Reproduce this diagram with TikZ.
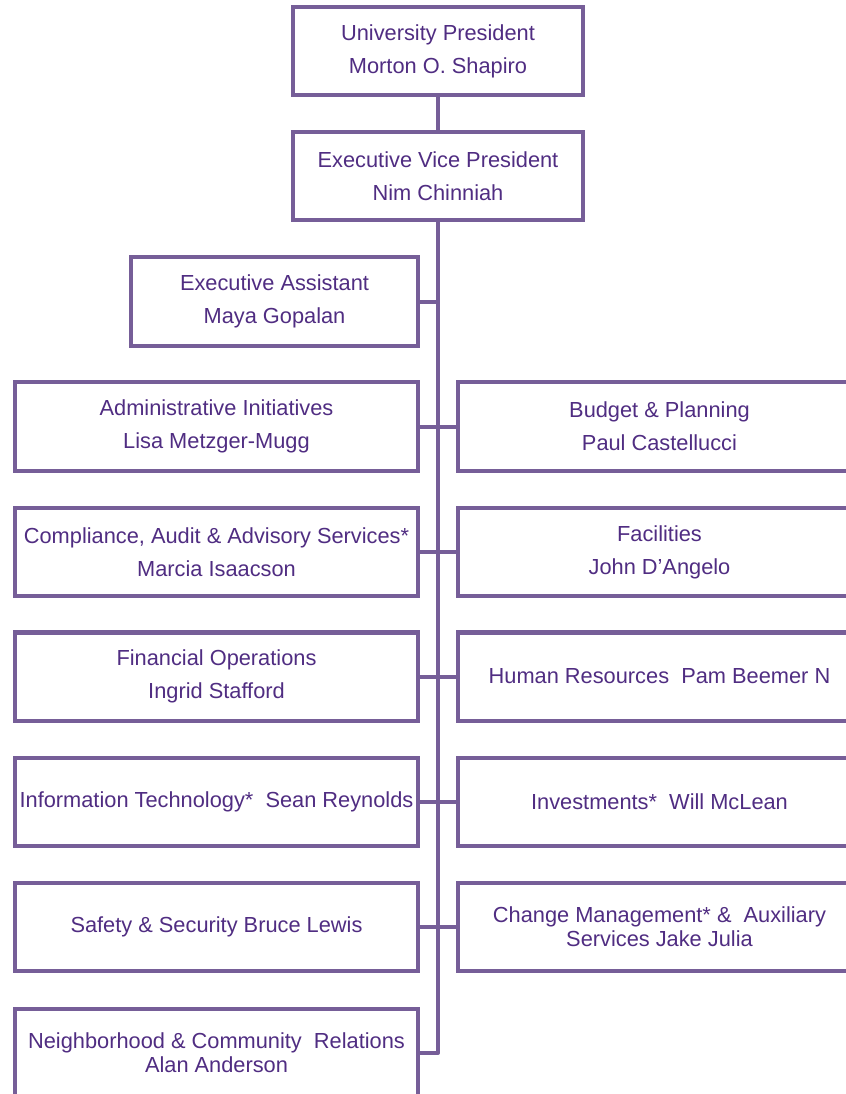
\documentclass[tikz,border=0pt]{standalone}
\usepackage{fontspec}
\setmainfont{Liberation Sans}
\usepackage{xcolor}
\usetikzlibrary{positioning,calc}

\definecolor{chartline}{RGB}{118,94,152}
\definecolor{charttext}{RGB}{80,45,130}

\tikzset{
  box/.style={draw=chartline, line width=0.1cm, fill=white, text=charttext,
    align=center, inner sep=0pt, minimum height=2.2cm,
    font=\fontsize{15.5}{23.5}\selectfont},
  topbox/.style={box, minimum width=7.26cm},
  rowbox/.style={box, minimum width=10.075cm},
  tight/.style={font=\fontsize{15.5}{17}\selectfont},
  link/.style={draw=chartline, line width=0.1cm, line join=round}
}

\begin{document}
\begin{tikzpicture}[x=0.025cm, y=-0.025cm]
    % Page
    \useasboundingbox (0,0) rectangle (846,1094);
    \clip (0,0) rectangle (846,1094);
    \fill[white] (0,0) rectangle (846,1094);

    % Top of the chart
    \node[topbox] (president) at (438,51) {University President\\Morton O. Shapiro};
    \node[topbox] (evp) at (438,176) {Executive Vice President\\Nim Chinniah};
    \node[box, minimum width=7.175cm] (assistant) at (274.5,301.5) {Executive Assistant\\Maya Gopalan};

    % Left column
    \node[rowbox] (admin) at (216.5,426.5) {Administrative Initiatives\\Lisa Metzger-Mugg};
    \node[rowbox] (audit) at (216.5,552) {Compliance, Audit \& Advisory Services*\\Marcia Isaacson};
    \node[rowbox] (finance) at (216.5,676.5) {Financial Operations\\Ingrid Stafford};
    \node[rowbox] (infotech) at (216.5,802) {Information Technology*~ Sean Reynolds};
    \node[rowbox] (safety) at (216.5,927) {Safety \& Security Bruce Lewis};
    \node[rowbox, tight] (hood) at (216.5,1053) {Neighborhood \& Community~ Relations\\Alan Anderson};

    % Right column
    \node[rowbox] (budget) at (659.5,426.5) {Budget \& Planning\\Paul Castellucci};
    \node[rowbox] (facilities) at (659.5,552) {Facilities\\John D'Angelo};
    \node[rowbox] (hr) at (659.5,676.5) {Human Resources~ Pam Beemer N};
    \node[rowbox] (invest) at (659.5,802) {Investments*~ Will McLean};
    \node[rowbox, tight] (change) at (659.5,927) {Change Management* \&~ Auxiliary\\Services Jake Julia};

    % Connections
    \draw[link] (president) -- (evp);
    \draw[link] (evp.south) |- (hood.east); % spine
    \draw[link] (assistant.east) -- (assistant.east -| evp.south);
    \draw[link] (admin.east) -- (budget.west);
    \draw[link] (audit.east) -- (facilities.west);
    \draw[link] (finance.east) -- (hr.west);
    \draw[link] (infotech.east) -- (invest.west);
    \draw[link] (safety.east) -- (change.west);
\end{tikzpicture}
\end{document}
